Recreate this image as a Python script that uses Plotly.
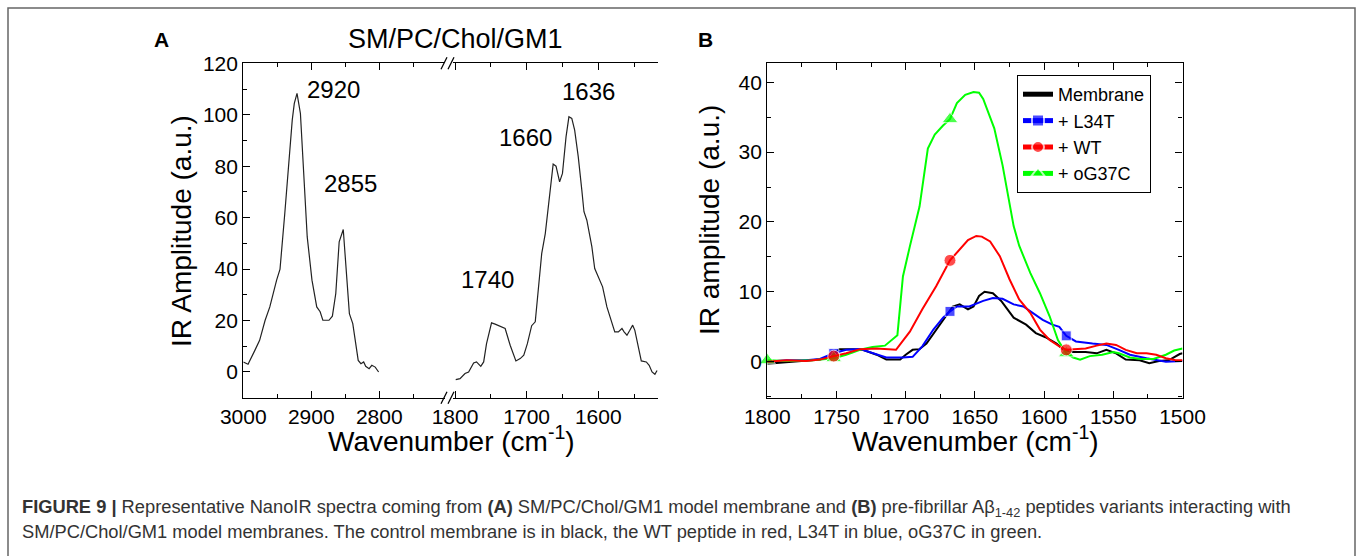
import plotly.graph_objects as go

W, H = 1357, 556

# ---------------- Panel A data (SM/PC/Chol/GM1 membrane) ----------------
a_hi_x = [3000, 2993, 2983, 2976, 2968, 2961, 2951, 2946, 2939, 2933, 2928, 2925, 2921,
          2916, 2911, 2906, 2899, 2892, 2887, 2883, 2874, 2869, 2864, 2859, 2853, 2849,
          2844, 2839, 2835, 2831, 2827, 2823, 2820, 2815, 2811, 2806, 2801]
a_hi_y = [3.9, 3.0, 8.4, 12.3, 20.0, 25.3, 35.7, 40.0, 61.6, 82.4, 98.0, 104.4, 108.3,
          100.5, 78.5, 52.5, 35.7, 25.3, 23.4, 20.1, 20.1, 21.7, 30.5, 50.6, 55.4, 39.6,
          22.7, 18.8, 12.3, 4.5, 3.2, 3.9, 2.2, 1.3, 2.6, 1.9, 0.0]

a_lo_x = [1799, 1793, 1786, 1781, 1774, 1770, 1764, 1760, 1756, 1749, 1744, 1737, 1730,
          1723, 1715, 1709, 1704, 1699, 1693, 1688, 1684, 1679, 1674, 1670, 1665, 1663,
          1659, 1654, 1650, 1645, 1641, 1637, 1633, 1628, 1623, 1620, 1616, 1609, 1605,
          1600, 1594, 1588, 1581, 1577, 1572, 1567, 1564, 1560, 1556, 1552, 1549, 1543,
          1540, 1533, 1529, 1525, 1521, 1518]
a_lo_y = [-3.0, -2.6, -0.6, 0.0, 3.5, 3.9, 2.2, 3.9, 11.0, 19.1, 18.6, 17.8, 16.9,
          10.4, 4.3, 5.2, 6.5, 11.0, 18.0, 19.5, 30.5, 46.0, 53.8, 64.2, 74.6, 80.8,
          80.0, 73.9, 77.2, 91.5, 99.2, 98.6, 94.0, 83.7, 70.7, 62.3, 59.0, 48.7, 40.2,
          37.0, 33.1, 25.3, 19.5, 15.6, 15.6, 16.9, 15.6, 14.3, 16.2, 18.2, 16.2, 8.4,
          4.3, 3.9, 2.6, 0.0, -0.9, 0.6]

peak_labels = ["2920", "2855", "1740", "1660", "1636"]

# ---------------- Panel B data ----------------
mem_x = [1800, 1786, 1772, 1762, 1752, 1748, 1738, 1731, 1721, 1714, 1704, 1700, 1695,
         1690, 1685, 1678, 1671, 1666, 1661, 1655, 1651, 1647, 1643, 1637, 1631, 1625,
         1622, 1613, 1606, 1599, 1591, 1586, 1579, 1570, 1562, 1555, 1548, 1541, 1531,
         1524, 1517, 1510, 1502, 1500]
mem_y = [-0.3, -0.1, 0.2, 0.3, 1.0, 1.8, 1.8, 1.7, 1.0, 0.3, 0.3, 1.0, 1.7,
         1.8, 2.6, 4.6, 6.5, 7.9, 8.2, 7.5, 7.9, 9.4, 10.0, 9.8, 8.7, 7.0,
         6.3, 5.3, 4.1, 3.5, 2.6, 1.7, 1.4, 1.4, 1.2, 1.7, 1.2, 0.3, 0.2,
         -0.2, 0.1, 0.2, 1.1, 1.2]

l34t_x = [1800, 1786, 1772, 1762, 1752, 1743, 1733, 1724, 1714, 1702, 1695, 1688, 1680,
          1673, 1668, 1663, 1654, 1644, 1637, 1630, 1622, 1615, 1608, 1601, 1594, 1589,
          1584, 1577, 1565, 1555, 1546, 1538, 1526, 1512, 1500]
l34t_y = [0.0, 0.2, 0.2, 0.4, 1.2, 1.7, 1.8, 1.2, 0.6, 0.6, 0.7, 2.2, 4.6,
          6.3, 7.2, 7.9, 7.9, 8.7, 9.1, 9.0, 8.2, 7.9, 7.0, 6.0, 5.3, 5.0,
          3.7, 2.9, 2.6, 2.4, 1.7, 1.0, 0.5, 0.0, 0.1]

wt_x = [1800, 1786, 1772, 1762, 1752, 1743, 1733, 1721, 1707, 1697, 1688, 1678, 1668,
        1661, 1655, 1649, 1645, 1639, 1632, 1625, 1618, 1610, 1603, 1596, 1589, 1584,
        1577, 1570, 1562, 1555, 1548, 1541, 1533, 1526, 1519, 1512, 1505, 1500]
wt_y = [0.0, 0.2, 0.1, 0.3, 0.8, 1.2, 1.8, 1.9, 1.7, 4.3, 7.5, 10.8, 14.5,
        16.0, 17.4, 18.0, 17.9, 17.2, 15.1, 11.8, 8.9, 7.0, 4.6, 3.1, 2.2, 1.7,
        1.8, 1.9, 2.3, 2.6, 2.4, 1.7, 1.2, 1.2, 1.0, 0.5, 0.2, 0.2]

og_x = [1800, 1786, 1767, 1752, 1743, 1733, 1724, 1715, 1706, 1702, 1697, 1690, 1684,
        1679, 1673, 1668, 1663, 1657, 1651, 1647, 1644, 1640, 1636, 1630, 1622, 1618,
        1610, 1603, 1596, 1590, 1584, 1579, 1574, 1567, 1558, 1550, 1546, 1538, 1530,
        1521, 1512, 1506, 1500]
og_y = [0.2, 0.1, 0.2, 0.5, 1.0, 1.7, 2.1, 2.3, 3.8, 12.2, 16.5, 22.2, 30.5,
        32.5, 33.8, 34.7, 37.0, 38.2, 38.6, 38.5, 37.6, 35.5, 33.4, 28.1, 19.4, 16.6,
        12.7, 9.8, 6.5, 3.1, 1.2, 0.6, 0.3, 0.8, 1.0, 1.4, 1.2, 0.6, 0.4,
        0.4, 1.0, 1.6, 1.9]

series_names = ["Membrane", "+ L34T", "+ WT", "+ oG37C"]
marker_x = [1752, 1668, 1584]
og_marker_x = [1800, 1752, 1668, 1584]

# ---------------- helpers ----------------
FONT = "Arial, Liberation Sans, sans-serif"


def px(x):
    return x / W


def py(y):
    return 1 - y / H


def msize(xs, mx, s):
    return [s if v in mx else 0 for v in xs]


fig = go.Figure()

# Panel A traces
fig.add_trace(go.Scatter(x=a_hi_x, y=a_hi_y, mode="lines", xaxis="x", yaxis="y",
                         line=dict(color="#222222", width=1.2), showlegend=False))
fig.add_trace(go.Scatter(x=a_lo_x, y=a_lo_y, mode="lines", xaxis="x2", yaxis="y",
                         line=dict(color="#222222", width=1.2), showlegend=False))

# Panel B traces
fig.add_trace(go.Scatter(x=mem_x, y=mem_y, mode="lines", name=series_names[0],
                         xaxis="x3", yaxis="y3", legendrank=1,
                         line=dict(color="black", width=2)))
fig.add_trace(go.Scatter(x=l34t_x, y=l34t_y, mode="lines+markers", name=series_names[1],
                         xaxis="x3", yaxis="y3", legendrank=2, cliponaxis=False,
                         line=dict(color="#0000FF", width=2),
                         marker=dict(symbol="square", color="#0000FF",
                                     size=msize(l34t_x, marker_x, 10))))
fig.add_trace(go.Scatter(x=og_x, y=og_y, mode="lines+markers", name=series_names[3],
                         xaxis="x3", yaxis="y3", legendrank=4, cliponaxis=False,
                         line=dict(color="#00FF00", width=2),
                         marker=dict(symbol="triangle-up", color="#00FF00",
                                     size=msize(og_x, og_marker_x, 14))))
fig.add_trace(go.Scatter(x=wt_x, y=wt_y, mode="lines+markers", name=series_names[2],
                         xaxis="x3", yaxis="y3", legendrank=3, cliponaxis=False,
                         line=dict(color="#FF0000", width=2),
                         marker=dict(symbol="circle", color="#FF0000",
                                     size=msize(wt_x, marker_x, 12))))

# ---------------- axes ----------------
tickfont = dict(family=FONT, size=21, color="black")
common = dict(showline=True, linecolor="black", linewidth=1.3, ticks="inside",
              ticklen=7, tickwidth=1.2, tickcolor="black", showgrid=False,
              zeroline=False, tickfont=tickfont)

yA_top, yA_bot = 63.3, 397.7
fig.update_layout(
    xaxis=dict(domain=[px(243.3), px(445)], range=[3000, 3000 - (445 - 243.3) / 0.68],
               anchor="y", tick0=3000, dtick=100, mirror="ticks",
               minor=dict(ticks="inside", dtick=50, ticklen=4, tickcolor="black"), **common),
    xaxis2=dict(domain=[px(453), px(658)],
                range=[1800 + (455 - 453) / 0.7165, 1800 - (658 - 455) / 0.7165],
                anchor="y", tick0=1800, dtick=100, mirror="ticks",
                minor=dict(ticks="inside", dtick=50, ticklen=4, tickcolor="black"), **common),
    yaxis=dict(domain=[py(yA_bot), py(yA_top)], range=[-10, 120], anchor="x",
               dtick=20, minor=dict(ticks="inside", dtick=10, ticklen=4, tickcolor="black"),
               **common),
    yaxis2=dict(domain=[py(yA_bot), py(yA_top)], range=[-10, 120], anchor="x2",
                overlaying="y", side="right", dtick=20, showticklabels=False,
                minor=dict(ticks="inside", dtick=10, ticklen=4, tickcolor="black"),
                **common),
    xaxis3=dict(domain=[px(767.3), px(1182.5)], range=[1800, 1500], anchor="y3",
                dtick=50, mirror="ticks",
                minor=dict(ticks="inside", dtick=25, ticklen=4, tickcolor="black"), **common),
    yaxis3=dict(domain=[py(yA_bot), py(yA_top)], range=[-5.15, 42.7], anchor="x3",
                dtick=10, mirror="ticks",
                minor=dict(ticks="inside", dtick=5, ticklen=4, tickcolor="black"), **common),
)

# ---------------- annotations ----------------
ann = []


def text(x, y, s, size, color="black", xanchor="center", yanchor="middle",
         textangle=0, family=FONT):
    ann.append(dict(x=px(x), y=py(y), xref="paper", yref="paper", text=s, showarrow=False,
                    xanchor=xanchor, yanchor=yanchor, textangle=textangle,
                    font=dict(family=family, size=size, color=color)))


text(161, 39, "<b>A</b>", 21)
text(705, 39, "<b>B</b>", 21)
text(455, 39, "SM/PC/Chol/GM1", 27)
text(333, 89, peak_labels[0], 24)
text(350, 184, peak_labels[1], 24)
text(487, 279, peak_labels[2], 24)
text(525, 137, peak_labels[3], 24)
text(588, 92, peak_labels[4], 24)
text(181, 231, "IR Amplitude (a.u.)", 28, textangle=-90)
text(709, 220, "IR amplitude (a.u.)", 28, textangle=-90)
text(451, 439, "Wavenumber (cm<sup>-1</sup>)", 28)
text(975, 439, "Wavenumber (cm<sup>-1</sup>)", 28)

cap1 = ("<b>FIGURE 9 |</b> Representative NanoIR spectra coming from <b>(A)</b> SM/PC/Chol/GM1 "
        "model membrane and <b>(B)</b> pre-fibrillar Aβ<sub>1-42</sub> peptides variants "
        "interacting with")
cap2 = ("SM/PC/Chol/GM1 model membranes. The control membrane is in black, the WT peptide in "
        "red, L34T in blue, oG37C in green.")
text(20, 508, cap1, 18.3, color="#333333", xanchor="left")
text(20, 531, cap2, 18.3, color="#333333", xanchor="left")
fig.update_layout(annotations=ann)

# ---------------- shapes: frame and axis-break marks ----------------
shapes = [dict(type="rect", xref="paper", yref="paper", x0=px(8), x1=px(1355), y0=py(570),
               y1=py(8), line=dict(color="#666666", width=1.5))]
for yb in (yA_top, yA_bot):
    for xo in (444, 451):
        shapes.append(dict(type="line", xref="paper", yref="paper",
                           x0=px(xo - 3), y0=py(yb + 6), x1=px(xo + 3), y1=py(yb - 6),
                           line=dict(color="black", width=1.2)))
fig.update_layout(shapes=shapes)

fig.update_layout(
    width=W, height=H, margin=dict(l=0, r=0, t=0, b=0, pad=0, autoexpand=False),
    paper_bgcolor="white", plot_bgcolor="white",
    legend=dict(x=px(1017), y=py(75), xanchor="left", yanchor="top",
                bgcolor="white", bordercolor="black", borderwidth=1,
                font=dict(family=FONT, size=18, color="black"),
                itemsizing="constant", tracegroupgap=0),
)

fig.write_html("out.html", config={"displayModeBar": False},
               post_script="document.body.style.margin='0px';"
                           "document.body.style.overflow='hidden';")
